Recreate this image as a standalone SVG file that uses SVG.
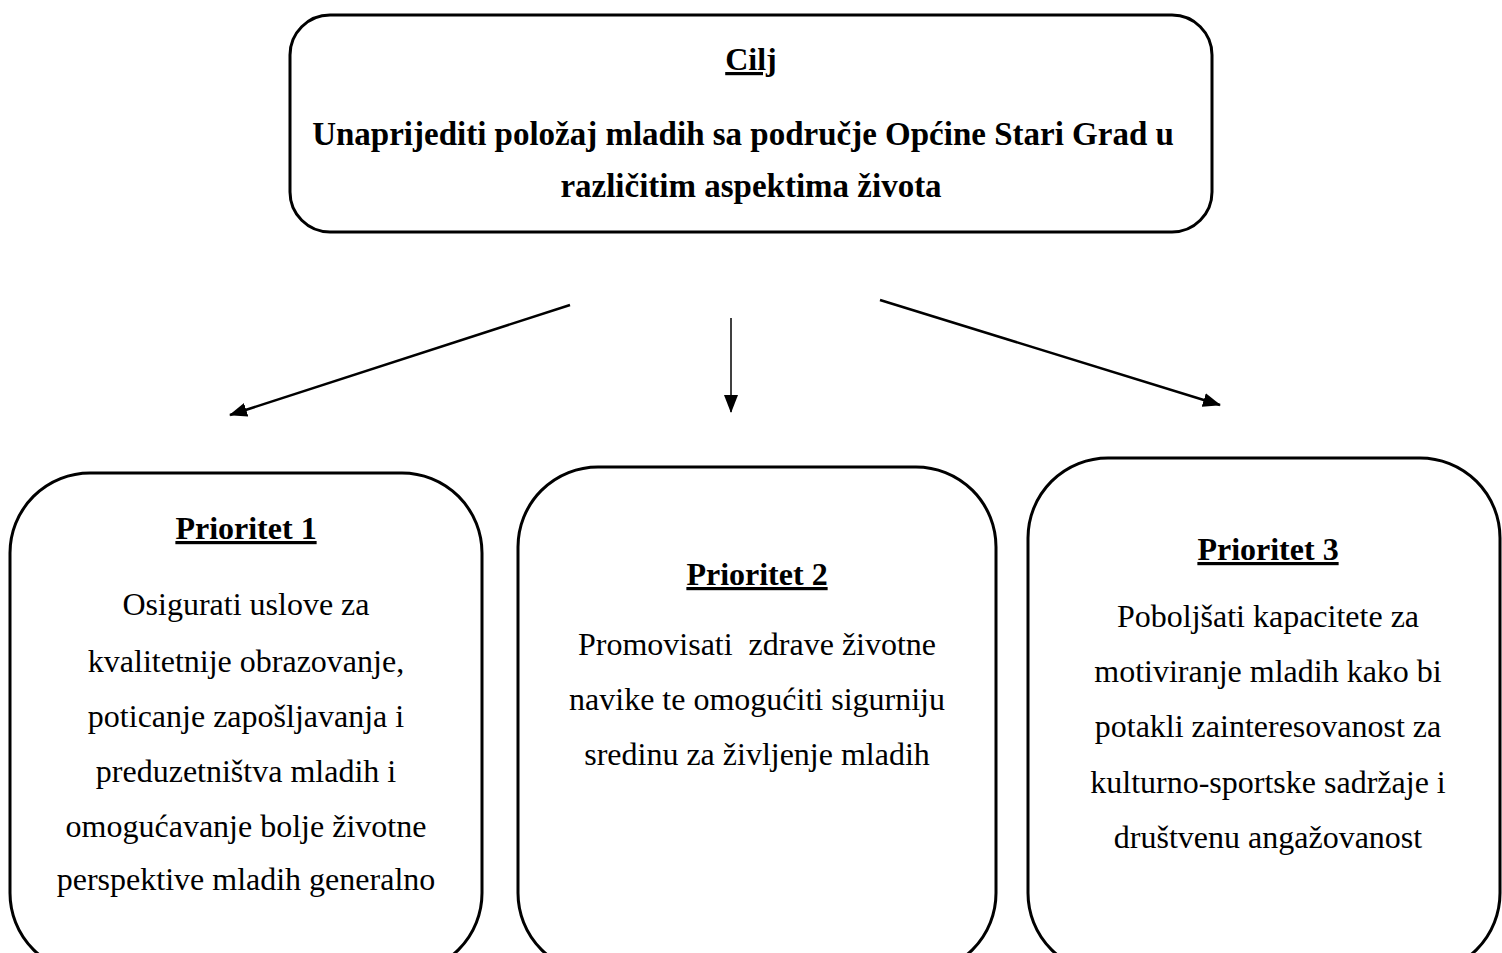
<svg xmlns="http://www.w3.org/2000/svg" width="1502" height="953" viewBox="0 0 1502 953">
<style>
.box{fill:#fff;stroke:#000;stroke-width:3}
.t{font-family:"Liberation Serif","Times New Roman",serif;fill:#000;text-anchor:middle}
.h{font-weight:bold;text-decoration:underline;font-size:32px}
.g{font-weight:bold;font-size:33px}
.b{font-size:32px}
.c{stroke:#000;stroke-width:2.5;fill:none}
</style>
<defs>
<marker id="ah2" markerWidth="18" markerHeight="14" refX="17" refY="7" orient="auto" markerUnits="userSpaceOnUse">
<path d="M0,0 L18,7 L0,14 Z" fill="#000"/>
</marker>
</defs>
<g id="cilj">
<rect class="box" x="290" y="15" width="922" height="217" rx="40" ry="40"/>
<text class="t h" x="751" y="70">Cilj</text>
<text class="t g" x="743" y="145">Unaprijediti položaj mladih sa područje Općine Stari Grad u</text>
<text class="t g" x="751" y="197">različitim aspektima života</text>
</g>
<g id="connectors">
<line class="c" x1="570" y1="305" x2="230" y2="415" marker-end="url(#ah2)"/>
<line class="c" x1="731" y1="318" x2="731" y2="412" style="stroke-width:1.5" marker-end="url(#ah2)"/>
<line class="c" x1="880" y1="300" x2="1220" y2="405" marker-end="url(#ah2)"/>
</g>
<g id="p1">
<rect class="box" x="10" y="473" width="472" height="500" rx="80" ry="80"/>
<text class="t h" x="246" y="539">Prioritet 1</text>
<text class="t b" x="246" y="615">Osigurati uslove za</text>
<text class="t b" x="246" y="672">kvalitetnije obrazovanje,</text>
<text class="t b" x="246" y="727">poticanje zapošljavanja i</text>
<text class="t b" x="246" y="782">preduzetništva mladih i</text>
<text class="t b" x="246" y="837">omogućavanje bolje životne</text>
<text class="t b" x="246" y="890">perspektive mladih generalno</text>
</g>
<g id="p2">
<rect class="box" x="518" y="467" width="478" height="506" rx="80" ry="80"/>
<text class="t h" x="757" y="585">Prioritet 2</text>
<text class="t b" x="757" y="655" xml:space="preserve">Promovisati  zdrave životne</text>
<text class="t b" x="757" y="710">navike te omogućiti sigurniju</text>
<text class="t b" x="757" y="765">sredinu za življenje mladih</text>
</g>
<g id="p3">
<rect class="box" x="1028" y="458" width="472" height="515" rx="80" ry="80"/>
<text class="t h" x="1268" y="560">Prioritet 3</text>
<text class="t b" x="1268" y="627">Poboljšati kapacitete za</text>
<text class="t b" x="1268" y="682">motiviranje mladih kako bi</text>
<text class="t b" x="1268" y="737">potakli zainteresovanost za</text>
<text class="t b" x="1268" y="793">kulturno-sportske sadržaje i</text>
<text class="t b" x="1268" y="848">društvenu angažovanost</text>
</g>
</svg>
